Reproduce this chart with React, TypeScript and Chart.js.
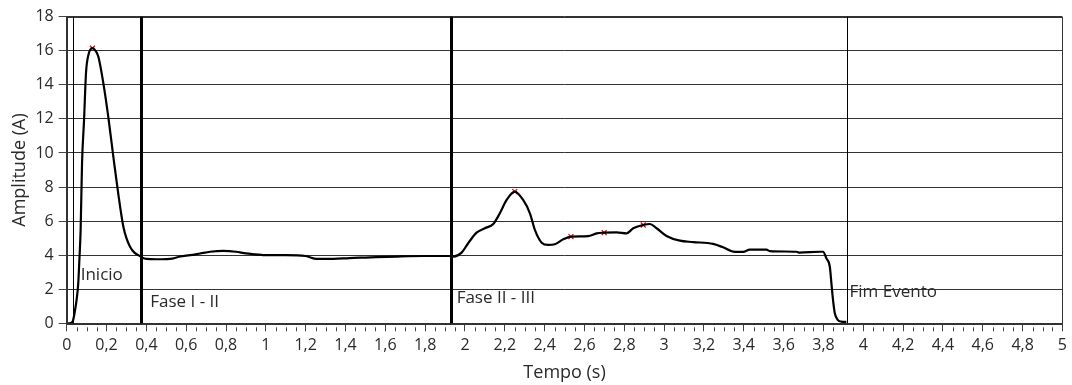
import React, { useEffect, useRef } from "react";
import { Chart, registerables } from "chart.js";

Chart.register(...registerables);

// ---- Data ----
const timeS = [
  0, 0.02, 0.03, 0.042, 0.05, 0.058, 0.064, 0.07, 0.077, 0.087, 0.097, 0.109, 0.129, 0.145, 0.159,
  0.184, 0.209, 0.234, 0.259, 0.284, 0.3, 0.318, 0.34, 0.368, 0.38, 0.4, 0.45, 0.5, 0.53, 0.57,
  0.62, 0.67, 0.72, 0.786, 0.85, 0.9, 0.95, 1.0, 1.1, 1.2, 1.255, 1.34, 1.42, 1.5, 1.66, 1.8,
  1.92, 1.941, 1.983, 2.016, 2.058, 2.1, 2.142, 2.175, 2.209, 2.25, 2.292, 2.326, 2.351, 2.385,
  2.418, 2.451, 2.493, 2.532, 2.618, 2.661, 2.699, 2.761, 2.811, 2.845, 2.895, 2.928, 2.962,
  3.012, 3.079, 3.146, 3.246, 3.296, 3.355, 3.397, 3.43, 3.514, 3.53, 3.665, 3.68, 3.782, 3.798,
  3.815, 3.832, 3.84, 3.848, 3.857, 3.873, 3.89, 3.915,
];
const ampA = [
  0, 0.02, 0.1, 0.78, 1.4, 2.35, 3.8, 5.5, 9.4, 11.9, 14.7, 15.75, 16.15, 16.0, 15.65,
  14.1, 12.1, 9.8, 7.6, 5.7, 5.0, 4.5, 4.15, 3.95, 3.85, 3.78, 3.76, 3.77, 3.8, 3.92,
  4.0, 4.1, 4.2, 4.25, 4.2, 4.1, 4.05, 4.0, 4.0, 3.95, 3.78, 3.78, 3.83, 3.86, 3.92, 3.95,
  3.95, 3.92, 4.15, 4.7, 5.32, 5.58, 5.83, 6.46, 7.24, 7.73, 7.24, 6.46, 5.48, 4.73,
  4.6, 4.64, 4.93, 5.09, 5.12, 5.28, 5.32, 5.34, 5.28, 5.58, 5.77, 5.83, 5.58,
  5.13, 4.85, 4.77, 4.66, 4.46, 4.19, 4.19, 4.32, 4.32, 4.24, 4.2, 4.15, 4.2, 4.2,
  3.81, 3.32, 2.35, 1.37, 0.59, 0.19, 0.1, 0.08,
];
const peakT = [0.129, 2.25, 2.532, 2.699, 2.895];
const peakA = [16.15, 7.73, 5.09, 5.32, 5.77];

const cursorNames = ["Inicio", "Fase I - II", "Fase II - III", "Fim Evento"];
const cursorT = [0.03, 0.3745, 1.928, 3.916];
const cursorLabelA = [2.84, 1.27, 1.47, 1.8];

const xMin = 0;
const xMax = 5;
const xMajorStep = 0.2;
const xMinorStep = 0.05;
const yMin = 0;
const yMax = 18;
const yStep = 2;

const xTitle = "Tempo (s)";
const yTitle = "Amplitude (A)";

// ---- Styles ----
const STYLE = {
  font: "'Open Sans', 'Noto Sans', sans-serif",
  text: "#2a2a2a",
  grid: "#333333",
  cursorWidths: [1, 3, 3, 1],
  cursorLabelDx: [8, 9, 6, 3],
};

const fmt = (v: number) => String(Number(v.toFixed(2))).replace(".", ",");

const overlayPlugin = {
  id: "overlay",
  afterDatasetsDraw(chart: any) {
    const { ctx, chartArea, scales } = chart;
    const xs = scales.x;
    const ys = scales.y;
    ctx.save();
    // frame
    ctx.strokeStyle = STYLE.grid;
    ctx.lineWidth = 1;
    ctx.strokeRect(
      Math.round(chartArea.left) + 0.5,
      Math.round(chartArea.top) + 0.5,
      Math.round(chartArea.right - chartArea.left) - 1,
      Math.round(chartArea.bottom - chartArea.top)
    );
    // cursors
    cursorT.forEach((t, i) => {
      const px = xs.getPixelForValue(t);
      const w = STYLE.cursorWidths[i];
      ctx.strokeStyle = "#000";
      ctx.lineWidth = w;
      const x = w % 2 === 1 ? Math.round(px) + 0.5 : Math.round(px);
      ctx.beginPath();
      ctx.moveTo(x, chartArea.top);
      ctx.lineTo(x, chartArea.bottom);
      ctx.stroke();
      ctx.fillStyle = STYLE.text;
      ctx.font = `17px ${STYLE.font}`;
      ctx.textAlign = "left";
      ctx.textBaseline = "middle";
      ctx.fillText(cursorNames[i], px + STYLE.cursorLabelDx[i], ys.getPixelForValue(cursorLabelA[i]));
    });
    ctx.restore();
  },
  afterDraw(chart: any) {
    const { ctx, chartArea, scales } = chart;
    const xs = scales.x;
    ctx.save();
    ctx.strokeStyle = "#444";
    ctx.lineWidth = 1;
    const n = Math.round((xMax - xMin) / xMinorStep);
    const every = Math.round(xMajorStep / xMinorStep);
    for (let i = 0; i <= n; i++) {
      if (i % every === 0) continue;
      const v = xMin + i * xMinorStep;
      const px = Math.round(xs.getPixelForValue(v)) + 0.5;
      ctx.beginPath();
      ctx.moveTo(px, chartArea.bottom + 4);
      ctx.lineTo(px, chartArea.bottom + 8);
      ctx.stroke();
    }
    ctx.restore();
  },
};

export default function App() {
  const ref = useRef<HTMLCanvasElement | null>(null);
  useEffect(() => {
    if (!ref.current) return;
    const chart = new Chart(ref.current, {
      type: "line",
      data: {
        datasets: [
          {
            label: "Amplitude",
            data: timeS.map((t, i) => ({ x: t, y: ampA[i] })),
            borderColor: "#000",
            borderWidth: 2.2,
            pointRadius: 0,
            cubicInterpolationMode: "monotone",
            fill: false,
          },
          {
            label: "Picos",
            data: peakT.map((t, i) => ({ x: t, y: peakA[i] })),
            showLine: false,
            pointStyle: "crossRot",
            pointRadius: 3.5,
            borderColor: "#e00000",
            borderWidth: 1.2,
            backgroundColor: "#e00000",
          },
        ],
      },
      options: {
        animation: false,
        responsive: true,
        maintainAspectRatio: false,
        layout: { padding: { top: 16.7, right: 9, left: 0, bottom: 0 } },
        plugins: { legend: { display: false }, tooltip: { enabled: false } },
        scales: {
          x: {
            type: "linear",
            min: xMin,
            max: xMax,
            afterFit: (s: any) => {
              s.height = 61.7;
            },
            ticks: {
              stepSize: xMajorStep,
              autoSkip: false,
              maxRotation: 0,
              padding: 5,
              color: STYLE.text,
              font: { family: STYLE.font, size: 16 },
              callback: (v: any) => fmt(Number(v)),
            },
            grid: { drawOnChartArea: false, drawTicks: true, tickLength: 8, tickColor: "#444" },
            border: { display: true, color: STYLE.grid, width: 1 },
            title: {
              display: true,
              text: xTitle,
              color: STYLE.text,
              font: { family: STYLE.font, size: 18 },
              padding: { top: 0, bottom: 1 },
            },
          },
          y: {
            type: "linear",
            min: yMin,
            max: yMax,
            afterFit: (s: any) => {
              s.width = 66.7;
            },
            ticks: {
              stepSize: yStep,
              padding: 5,
              color: STYLE.text,
              font: { family: STYLE.font, size: 16 },
              callback: (v: any) => fmt(Number(v)),
            },
            grid: { color: STYLE.grid, lineWidth: 1, drawTicks: true, tickLength: 8, tickColor: "#444" },
            border: { display: true, color: STYLE.grid, width: 1 },
            title: {
              display: true,
              text: yTitle,
              color: STYLE.text,
              font: { family: STYLE.font, size: 18 },
              padding: { top: 9, bottom: 0 },
            },
          },
        },
      },
      plugins: [overlayPlugin],
    } as any);
    return () => chart.destroy();
  }, []);
  return (
    <div style={{ position: "absolute", left: 0, top: 0, width: 1072, height: 385, background: "#fff" }}>
      <canvas ref={ref} />
    </div>
  );
}
